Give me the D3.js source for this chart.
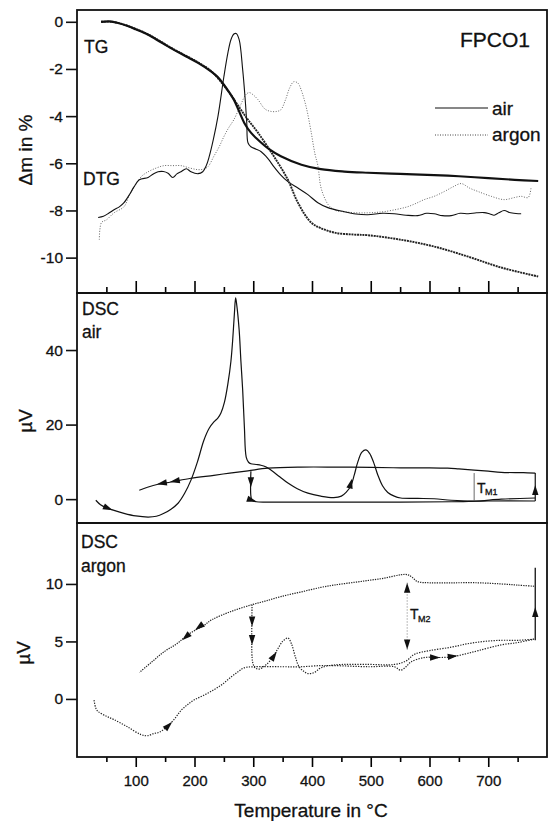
<!DOCTYPE html>
<html><head><meta charset="utf-8">
<script src="https://cdnjs.cloudflare.com/ajax/libs/d3/7.8.5/d3.min.js"></script>
<style>
body{margin:0;background:#fff;}
text{font-family:"Liberation Sans",Arial,sans-serif;fill:#111;stroke:#111;stroke-width:0.3px;}
</style></head><body>
<script>
// --- data: [temperature °C, value] ---
var tgAir = [[41,0],[55,0.02],[70,-0.05],[85,-0.17],[100,-0.32],[121,-0.55],[143,-0.87],[165,-1.19],[186,-1.47],[206,-1.74],[228,-2.1],[240,-2.35],[250,-2.67],[258,-2.95],[267,-3.3],[276,-3.8],[285,-4.3],[296,-4.7],[308,-5.0],[327,-5.4],[347,-5.7],[382,-6.06],[415,-6.25],[455,-6.35],[495,-6.4],[550,-6.45],[608,-6.5],[650,-6.55],[700,-6.63],[745,-6.7],[785,-6.75]];
var tgArgon = [[41,0],[60,0],[80,-0.12],[100,-0.3],[121,-0.53],[165,-1.17],[206,-1.72],[228,-2.08],[240,-2.4],[250,-2.7],[262,-3.1],[279,-3.73],[291,-4.15],[308,-4.7],[335,-5.7],[359,-6.7],[376,-7.67],[398,-8.5],[415,-8.75],[440,-8.95],[470,-9.02],[495,-9.05],[551,-9.24],[608,-9.53],[666,-9.96],[722,-10.42],[785,-10.8]];
var dtgAir = [[36,-8.3],[45,-8.25],[55,-8.1],[63,-7.97],[72,-7.85],[80,-7.67],[90,-7.3],[97,-7.0],[106,-6.7],[121,-6.6],[130,-6.45],[138,-6.36],[147,-6.35],[155,-6.42],[163,-6.6],[170,-6.45],[177,-6.36],[186,-6.23],[194,-6.36],[206,-6.44],[214,-6.36],[220,-6.1],[225,-5.72],[232,-5.0],[240,-4.0],[250,-2.33],[257,-1.3],[262,-0.76],[267,-0.52],[271,-0.5],[276,-0.76],[282,-2.03],[286,-3.2],[289,-4.3],[291,-5.13],[296,-5.3],[305,-5.4],[313,-5.5],[325,-5.8],[335,-6.14],[347,-6.5],[359,-6.78],[376,-7.05],[393,-7.33],[410,-7.67],[427,-7.88],[454,-8.05],[475,-8.15],[495,-8.18],[520,-8.12],[540,-8.14],[560,-8.2],[580,-8.22],[595,-8.12],[608,-8.14],[622,-8.22],[637,-8.22],[652,-8.12],[666,-8.14],[680,-8.1],[693,-8.09],[703,-8.15],[710,-8.2],[718,-8.1],[727,-8.0],[738,-8.1],[751,-8.14],[756,-8.14]];
var dtgArgon = [[38,-9.24],[39,-8.8],[42,-8.5],[50,-8.4],[63,-8.1],[80,-7.84],[90,-7.3],[100,-6.9],[110,-6.55],[121,-6.36],[135,-6.2],[148,-6.1],[163,-6.1],[177,-6.1],[192,-6.2],[206,-6.27],[215,-6.25],[223,-6.14],[233,-5.7],[242,-5.3],[250,-4.87],[258,-4.5],[267,-4.15],[279,-3.5],[287,-3.1],[293,-3.0],[300,-3.1],[308,-3.3],[320,-3.7],[330,-3.8],[340,-3.8],[347,-3.73],[355,-3.3],[362,-2.8],[369,-2.54],[376,-2.6],[381,-2.85],[390,-3.6],[398,-4.6],[405,-5.6],[410,-6.1],[415,-7.0],[422,-7.5],[429,-7.8],[440,-8.0],[454,-8.05],[475,-8.1],[495,-8.1],[510,-8.08],[523,-8.05],[545,-7.95],[563,-7.84],[577,-7.7],[591,-7.54],[608,-7.4],[625,-7.2],[640,-7.0],[654,-6.86],[668,-7.05],[683,-7.2],[705,-7.4],[727,-7.54],[745,-7.45],[756,-7.4],[768,-7.45],[773,-7.0]];

var dscAirHeat = [[32,-0.3],[40,-1.5],[50,-2.3],[63,-3.0],[80,-3.8],[100,-4.5],[121,-4.8],[135,-4.6],[148,-3.8],[160,-2.7],[172,-1.1],[183,1.5],[194,5.1],[205,10],[216,15.8],[225,19],[233,20.7],[240,21.8],[245,23.1],[251,26],[257,31.1],[262,37],[265,42.7],[268,50],[270,54],[272,52],[276,45.4],[279,37],[282,29.3],[285,19],[288,11.3],[292,9.9],[296,9.5],[305,9.3],[313,9.1],[322,8.6],[330,7.8],[345,6],[359,4.3],[375,2.8],[393,1.6],[415,0.8],[437,0.4],[450,0.8],[458,1.8],[466,3.5],[472,6.5],[478,10],[485,12.6],[492,13.2],[498,12.3],[505,9.8],[512,6.5],[520,3.6],[529,1.8],[540,0.8],[551,0.3],[580,0.2],[608,0.1],[637,-0.3],[676,-0.5],[722,0],[780,0.3]];
var dscAirCool = [[780,7.0],[760,7.1],[722,7.2],[700,7.5],[676,7.8],[650,8.1],[631,8.3],[600,8.4],[551,8.4],[500,8.5],[437,8.6],[381,8.6],[325,8.3],[291,7.6],[260,7.0],[233,6.4],[194,5.6],[160,4.6],[138,4.0],[120,3.2],[106,2.4]];
var dscAirReheat = [[296,7.5],[296,0.8],[298,-0.3],[305,-0.7],[325,-0.8],[415,-0.8],[551,-0.8],[637,-0.7],[700,-0.5],[780,-0.5]];
var dscAirJump = [[780,-0.5],[780,7.0]];
var tm1Line = [[676,-0.4],[676,7.0]];

var dscArHeat = [[29,-0.1],[32,-0.8],[36,-1.1],[50,-1.5],[63,-1.8],[85,-2.4],[109,-3.1],[120,-3.2],[131,-3.0],[140,-2.9],[151,-2.5],[165,-1.8],[177,-1.0],[188,-0.5],[199,-0.1],[215,0.3],[233,0.8],[248,1.3],[262,1.9],[275,2.4],[284,2.7],[301,2.8],[347,2.8],[381,2.8],[415,2.9],[437,2.9],[495,2.8],[540,2.8],[551,2.5],[560,2.8],[568,3.2],[591,3.6],[615,3.6],[637,3.65],[660,3.9],[683,4.2],[722,4.7],[750,4.9],[778,5.2]];
var dscArCool = [[778,9.8],[750,9.9],[722,10.0],[683,10.1],[637,10.1],[600,10.1],[580,10.2],[570,10.6],[563,10.8],[551,10.8],[523,10.5],[495,10.3],[466,10.1],[437,9.9],[415,9.7],[381,9.3],[347,8.9],[320,8.5],[298,8.2],[262,7.6],[230,6.9],[216,6.4],[189,5.6],[170,4.8],[148,4.1],[127,3.2],[106,2.3]];
var dscArReheat = [[298,8.2],[298,3.6],[300,3.0],[303,2.7],[310,2.6],[320,2.9],[330,3.4],[340,4.2],[350,5.0],[359,5.3],[365,4.8],[372,3.6],[378,2.8],[386,2.4],[393,2.2],[404,2.3],[415,2.7],[437,2.95],[495,3.0],[540,3.0],[560,3.3],[575,3.9],[600,4.2],[637,4.5],[665,4.8],[693,5.0],[722,5.1],[751,5.1],[778,5.2]];
var dscArJump = [[780,5.1],[780,11.4]];
var tm2Line = [[562,4.3],[562,10.1]];

// arrows: [tipT, tipV, fromT, fromV]
var airArrows = [[61,-3.0,45,-1.9],[136,4.0,150,4.4],[158,4.6,172,5.0],[296,3.2,296,6.0],[306,-0.7,298,-0.3],[468,5.5,464,3.0],[780,3.8,780,1.0]];
var argonArrows = [[162,-2.0,150,-2.6],[179,5.1,192,5.7],[201,6.0,214,6.5],[298,6.3,298,8.0],[298,4.7,298,6.2],[340,4.1,332,3.5],[618,3.6,600,3.6],[648,3.75,630,3.65],[780,8.0,780,6.0],[562,10.1,562,8.0],[562,4.3,562,6.0]];

var xMajor = [100,200,300,400,500,600,700];
var xMinor = [50,150,250,350,450,550,650,750];
var tgTicks = [0,-2,-4,-6,-8,-10];
var airTicks = [0,20,40];
var argonTicks = [0,5,10];

// --- layout ---
var width = 549, height = 821;
var left = 77, right = 547;
var svg = d3.select("body").append("svg")
  .attr("width", width)
  .attr("height", height);

var x = d3.scaleLinear().domain([0, 800]).range([left, right]);
var yTg = d3.scaleLinear().domain([-11.5, 0.5]).range([293, 10]);
var yAir = d3.scaleLinear().domain([-6.4, 55.3]).range([523, 293]);
var yAr = d3.scaleLinear().domain([-5.05, 15.3]).range([757, 523]);

function draw(data, y, width, dash, color) {
  var line = d3.line()
    .x(function(d) { return x(d[0]); })
    .y(function(d) { return y(d[1]); })
    .curve(d3.curveCatmullRom.alpha(0.5));
  svg.append("path")
    .datum(data)
    .attr("d", line)
    .attr("fill", "none")
    .attr("stroke", color || "#111")
    .attr("stroke-width", width)
    .attr("stroke-dasharray", dash || null)
    .attr("stroke-linejoin", "round");
}

function arrows(list, y) {
  list.forEach(function(a) {
    var px = x(a[0]), py = y(a[1]);
    var ang = Math.atan2(py - y(a[3]), px - x(a[2])) * 180 / Math.PI;
    svg.append("path")
      .attr("d", "M0,0L-10,-3.2L-10,3.2Z")
      .attr("fill", "#111")
      .attr("transform", "translate(" + px + "," + py + ") rotate(" + ang + ")");
  });
}

// y axes (outward ticks), plain hyphen for negatives like the original
function yAxis(y, ticks) {
  svg.append("g")
    .attr("transform", "translate(" + left + ",0)")
    .call(d3.axisLeft(y).tickValues(ticks).tickSize(11).tickPadding(3).tickFormat(function(d) { return String(d); }))
    .call(function(g) {
      g.select(".domain").remove();
      g.selectAll("line").attr("stroke", "#111").attr("stroke-width", 1.6);
      g.selectAll("text").attr("font-size", 15.5).attr("font-family", "Liberation Sans, Arial").attr("fill", "#111");
    });
}
yAxis(yTg, tgTicks);
yAxis(yAir, airTicks);
yAxis(yAr, argonTicks);

// x ticks: inward at bottom of top panel, outward at very bottom
svg.append("g")
  .attr("transform", "translate(0,293)")
  .call(d3.axisTop(x).tickValues(xMajor).tickSize(12).tickFormat(""))
  .call(function(g) { g.select(".domain").remove(); g.selectAll("line").attr("stroke-width", 1.6); });
svg.append("g")
  .attr("transform", "translate(0,293)")
  .call(d3.axisTop(x).tickValues(xMinor).tickSize(6).tickFormat(""))
  .call(function(g) { g.select(".domain").remove(); g.selectAll("line").attr("stroke-width", 1.6); });

svg.append("g")
  .attr("transform", "translate(0,757)")
  .call(d3.axisBottom(x).tickValues(xMajor).tickSize(10).tickPadding(8))
  .call(function(g) {
    g.select(".domain").remove();
    g.selectAll("line").attr("stroke-width", 1.6);
    g.selectAll("text").attr("font-size", 15).attr("font-family", "Liberation Sans, Arial").attr("fill", "#111");
  });
svg.append("g")
  .attr("transform", "translate(0,757)")
  .call(d3.axisBottom(x).tickValues(xMinor).tickSize(5).tickFormat(""))
  .call(function(g) { g.select(".domain").remove(); g.selectAll("line").attr("stroke-width", 1.6); });

// panel frames
[[10, 293], [293, 523], [523, 757]].forEach(function(p) {
  svg.append("rect")
    .attr("x", left).attr("y", p[0])
    .attr("width", right - left).attr("height", p[1] - p[0])
    .attr("fill", "none").attr("stroke", "#111").attr("stroke-width", 1.8);
});

// TG / DTG
draw(dtgArgon, yTg, 1, "1,1.6", "#666");
draw(dtgAir, yTg, 1.1);
draw(tgArgon, yTg, 1.9, "2,0.8", "#222");
draw(tgAir, yTg, 2.2);

// DSC air
draw(dscAirHeat, yAir, 1.2);
draw(dscAirCool, yAir, 1.2);
draw(dscAirReheat, yAir, 1.2);
draw(dscAirJump, yAir, 1.2);
draw(tm1Line, yAir, 0.8, null, "#444");
arrows(airArrows, yAir);

// DSC argon
draw(dscArHeat, yAr, 1.2, "1.3,1.3", "#222");
draw(dscArCool, yAr, 1.2, "1.3,1.1", "#222");
draw(dscArReheat, yAr, 1.2, "1.3,1.3", "#222");
draw(dscArJump, yAr, 1.3);
draw(tm2Line, yAr, 1, "1,2", "#777");
arrows(argonArrows, yAr);

// labels
function label(t, px, py, size, anchor) {
  return svg.append("text").attr("x", px).attr("y", py)
    .attr("font-size", size).attr("text-anchor", anchor || "start").text(t);
}
label("TG", 84, 53, 17.5);
label("DTG", 83, 185, 17.5);
label("FPCO1", 460, 47, 21);
label("air", 492, 115, 19);
label("argon", 492, 141, 19);
svg.append("line").attr("x1", 435).attr("x2", 488).attr("y1", 108).attr("y2", 108)
  .attr("stroke", "#111").attr("stroke-width", 1.1);
svg.append("line").attr("x1", 435).attr("x2", 488).attr("y1", 135).attr("y2", 135)
  .attr("stroke", "#444").attr("stroke-width", 1).attr("stroke-dasharray", "1,1.5");

label("DSC", 82, 315, 17.5);
label("air", 82, 338, 17.5);
label("DSC", 81, 548, 17.5);
label("argon", 81, 572, 17.5);

label("T", 477, 493, 14);
label("M1", 485, 495, 9);
label("T", 410, 619, 14);
label("M2", 418, 622, 9);

label("Temperature in °C", 311, 817, 19, "middle");

svg.append("text").attr("transform", "translate(32,150) rotate(-90)")
  .attr("font-size", 19).attr("text-anchor", "middle").text("Δm in %");
svg.append("text").attr("transform", "translate(32,421) rotate(-90)")
  .attr("font-size", 19).attr("text-anchor", "middle").text("µV");
svg.append("text").attr("transform", "translate(30,653) rotate(-90)")
  .attr("font-size", 19).attr("text-anchor", "middle").text("µV");
</script>
</body></html>
